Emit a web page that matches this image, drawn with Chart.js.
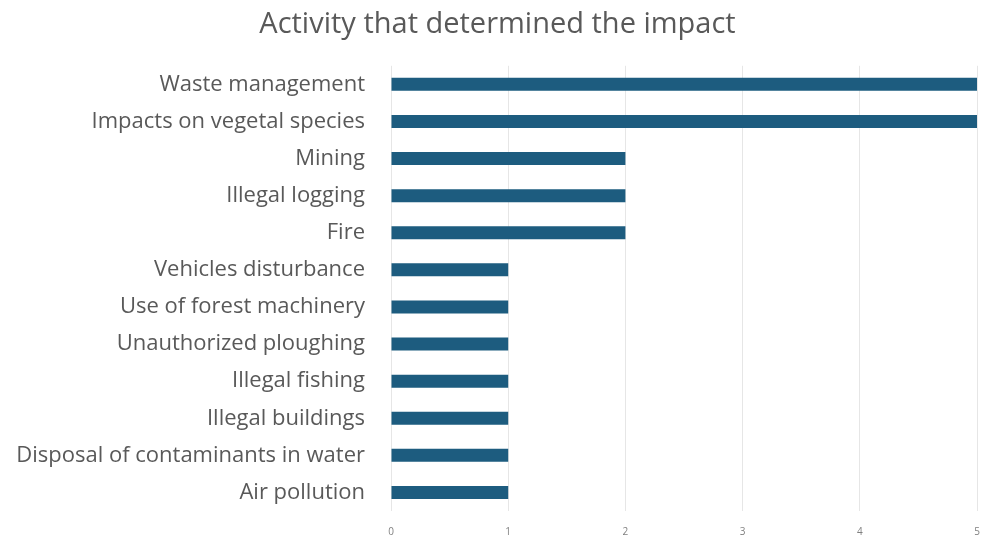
<!DOCTYPE html>
<html>
<head>
<meta charset="utf-8">
<script src="https://cdn.jsdelivr.net/npm/chart.js@4"></script>
<style>
  html, body { margin: 0; padding: 0; background: #ffffff; }
  #wrap { width: 982px; height: 539px; }
</style>
</head>
<body>
<div id="wrap"><canvas id="c" width="982" height="539"></canvas></div>
<script>
// Activities and how many impacts each one determined
const activities = [
  "Waste management",
  "Impacts on vegetal species",
  "Mining",
  "Illegal logging",
  "Fire",
  "Vehicles disturbance",
  "Use of forest machinery",
  "Unauthorized ploughing",
  "Illegal fishing",
  "Illegal buildings",
  "Disposal of contaminants in water",
  "Air pollution"
];
const impactCounts = [5, 5, 2, 2, 2, 1, 1, 1, 1, 1, 1, 1];
const xTicks = [0, 1, 2, 3, 4, 5];

const FONT = "'Open Sans', 'Noto Sans', sans-serif";

new Chart(document.getElementById('c'), {
  type: 'bar',
  data: {
    labels: activities,
    datasets: [{
      data: impactCounts,
      backgroundColor: '#1d5c7f',
      borderWidth: 0,
      barPercentage: 0.7,
      categoryPercentage: 0.5
    }]
  },
  options: {
    indexAxis: 'y',
    responsive: false,
    animation: false,
    layout: { padding: { left: 8, right: -5, top: 4, bottom: 0 } },
    plugins: {
      legend: { display: false },
      tooltip: { enabled: false },
      title: {
        display: true,
        text: 'Activity that determined the impact',
        color: '#595959',
        font: { family: FONT, size: 29, weight: 'normal' },
        padding: { top: 3, bottom: 24 }
      }
    },
    scales: {
      x: {
        min: 0,
        max: 5,
        afterBuildTicks: (axis) => { axis.ticks = xTicks.map(v => ({ value: v })); },
        afterFit: (axis) => {
          axis.height = 28;
          axis.paddingLeft = 0;
          axis.paddingRight = 5;
        },
        grid: { color: '#e6e6e6', drawTicks: false },
        border: { display: false },
        ticks: {
          color: '#7f7f7f',
          font: { family: FONT, size: 10 },
          padding: 15
        }
      },
      y: {
        grid: { display: false },
        border: { display: false },
        afterFit: (axis) => {
          axis.width = 383;
          axis.paddingTop = 0;
          axis.paddingBottom = 0;
        },
        ticks: {
          color: '#595959',
          font: { family: FONT, size: 22 },
          padding: 18
        }
      }
    }
  }
});
</script>
</body>
</html>
